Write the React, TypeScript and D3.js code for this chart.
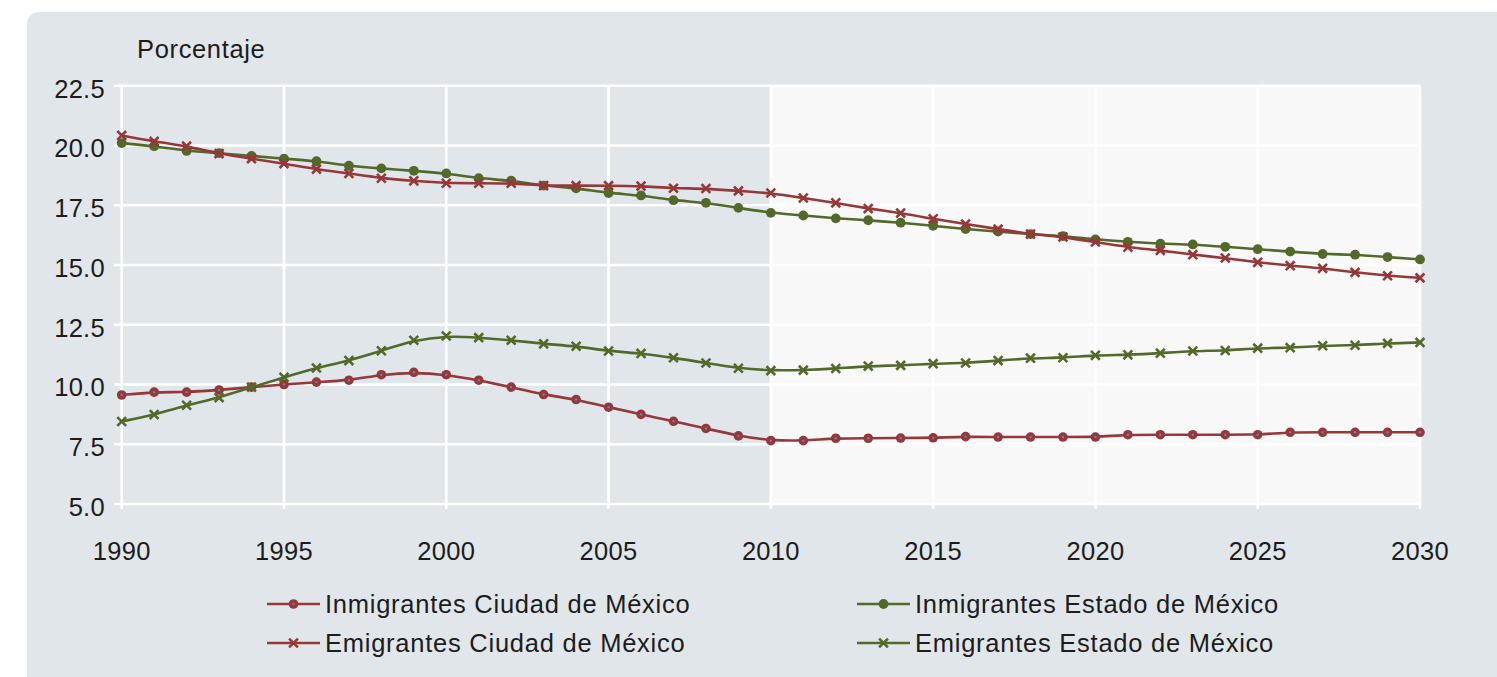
import React, { useRef, useEffect } from 'react';
import * as d3 from 'd3';

// Years 1990..2030
const years = d3.range(1990, 2031);

const inmigrantesCDMX = [
  9.56, 9.68, 9.68, 9.77, 9.89, 10.0, 10.1, 10.18, 10.41, 10.51, 10.41, 10.18, 9.89, 9.58, 9.37,
  9.05, 8.75, 8.46, 8.16, 7.85, 7.65, 7.65, 7.75, 7.75, 7.76, 7.77, 7.82, 7.8, 7.8, 7.8, 7.8,
  7.9, 7.9, 7.9, 7.9, 7.9, 8.0, 8.0, 8.0, 8.0, 8.0,
];

const emigrantesCDMX = [
  20.42, 20.17, 19.97, 19.66, 19.45, 19.24, 19.01, 18.83, 18.63, 18.52, 18.42, 18.42, 18.42,
  18.32, 18.32, 18.32, 18.3, 18.21, 18.2, 18.1, 18.01, 17.8, 17.6, 17.36, 17.17, 16.93, 16.71,
  16.5, 16.29, 16.17, 15.96, 15.74, 15.61, 15.43, 15.29, 15.11, 14.97, 14.86, 14.69, 14.55, 14.46,
];

const inmigrantesEdoMex = [
  20.1, 19.97, 19.77, 19.68, 19.56, 19.45, 19.34, 19.15, 19.04, 18.94, 18.83, 18.63, 18.53,
  18.32, 18.21, 18.01, 17.91, 17.71, 17.6, 17.39, 17.18, 17.07, 16.95, 16.87, 16.77, 16.64,
  16.5, 16.4, 16.29, 16.21, 16.07, 15.97, 15.89, 15.86, 15.76, 15.66, 15.56, 15.46, 15.43,
  15.33, 15.23,
];

const emigrantesEdoMex = [
  8.45, 8.74, 9.13, 9.45, 9.89, 10.3, 10.69, 11.0, 11.41, 11.85, 12.03, 11.96, 11.85, 11.7,
  11.6, 11.4, 11.3, 11.12, 10.9, 10.68, 10.58, 10.6, 10.67, 10.77, 10.8, 10.87, 10.9, 11.0,
  11.1, 11.12, 11.22, 11.24, 11.31, 11.4, 11.42, 11.52, 11.54, 11.62, 11.64, 11.72, 11.76,
];

const yTicks = [5, 7.5, 10, 12.5, 15, 17.5, 20, 22.5];
const xTicks = [1990, 1995, 2000, 2005, 2010, 2015, 2020, 2025, 2030];

const RED = '#94383a';
const GREEN = '#52692a';

const series = [
  { name: 'Inmigrantes Ciudad de México', values: inmigrantesCDMX, color: RED, marker: 'ring' },
  { name: 'Inmigrantes Estado de México', values: inmigrantesEdoMex, color: GREEN, marker: 'dot' },
  { name: 'Emigrantes Ciudad de México', values: emigrantesCDMX, color: RED, marker: 'cross' },
  { name: 'Emigrantes Estado de México', values: emigrantesEdoMex, color: GREEN, marker: 'cross' },
];

const FONT = "'Liberation Sans', Arial, sans-serif";

function drawMarker(g: any, type: string, cx: number, cy: number, color: string) {
  if (type === 'cross') {
    const s = 4.4;
    g.append('path')
      .attr('d', `M${cx - s},${cy - s}L${cx + s},${cy + s}M${cx - s},${cy + s}L${cx + s},${cy - s}`)
      .attr('stroke', color)
      .attr('stroke-width', 2.6)
      .attr('fill', 'none');
  } else if (type === 'ring') {
    g.append('circle').attr('cx', cx).attr('cy', cy).attr('r', 4.8).attr('fill', color);
    g.append('circle').attr('cx', cx).attr('cy', cy).attr('r', 1.2).attr('fill', '#6f80b0');
  } else {
    g.append('circle').attr('cx', cx).attr('cy', cy).attr('r', 4.9).attr('fill', color);
  }
}

export default function App() {
  const ref = useRef<SVGSVGElement>(null);

  useEffect(() => {
    const width = 1497;
    const height = 677;

    const svg = d3.select(ref.current);
    svg.selectAll('*').remove();
    svg.attr('viewBox', `0 0 ${width} ${height}`);

    // Panel
    svg
      .append('rect')
      .attr('x', 27)
      .attr('y', 12)
      .attr('width', 1520)
      .attr('height', 720)
      .attr('rx', 12)
      .attr('fill', '#e1e6ea');

    const x = d3.scaleLinear().domain([1990, 2030]).range([121.7, 1420]);
    const y = d3.scaleLinear().domain([5, 22.5]).range([504, 85.7]);

    // Projection zone
    svg
      .append('rect')
      .attr('x', x(2010))
      .attr('y', y(22.5))
      .attr('width', x(2030) - x(2010))
      .attr('height', y(5) - y(22.5))
      .attr('fill', '#f8f8f8');

    // Grid
    const grid = svg.append('g').attr('stroke', '#ffffff').attr('stroke-width', 2.6);
    yTicks.forEach(t => {
      grid.append('line').attr('x1', 114).attr('x2', x(2030)).attr('y1', y(t)).attr('y2', y(t));
    });
    xTicks.forEach(t => {
      grid.append('line').attr('x1', x(t)).attr('x2', x(t)).attr('y1', y(22.5)).attr('y2', y(5) + 5);
    });

    // Axis labels
    const text = svg
      .append('g')
      .style('font-family', FONT)
      .style('font-size', '25.5px')
      .style('letter-spacing', '0.3px')
      .attr('fill', '#1c1c1c');
    yTicks.forEach(t => {
      text
        .append('text')
        .attr('x', 105)
        .attr('y', y(t) + 11.8)
        .attr('text-anchor', 'end')
        .text(d3.format('.1f')(t));
    });
    xTicks.forEach(t => {
      text.append('text').attr('x', x(t)).attr('y', 560).attr('text-anchor', 'middle').text(t);
    });
    text
      .append('text')
      .attr('x', 137)
      .attr('y', 58)
      .style('letter-spacing', '0.65px')
      .text('Porcentaje');

    // Lines and markers
    const line = d3
      .line<number>()
      .x((_, i) => x(years[i]))
      .y(d => y(d))
      .curve(d3.curveBasis);

    series.forEach(s => {
      svg
        .append('path')
        .datum(s.values)
        .attr('fill', 'none')
        .attr('stroke', s.color)
        .attr('stroke-width', 2.6)
        .attr('d', line);
      const mg = svg.append('g');
      s.values.forEach((v, i) => drawMarker(mg, s.marker, x(years[i]), y(v), s.color));
    });

    // Legend
    const legendPos = [
      { lx: 267, ly: 604 },
      { lx: 857, ly: 604 },
      { lx: 267, ly: 643 },
      { lx: 857, ly: 643 },
    ];
    const legend = svg.append('g');
    series.forEach((s, i) => {
      const { lx, ly } = legendPos[i];
      legend
        .append('line')
        .attr('x1', lx)
        .attr('x2', lx + 53)
        .attr('y1', ly)
        .attr('y2', ly)
        .attr('stroke', s.color)
        .attr('stroke-width', 2.6);
      drawMarker(legend, s.marker, lx + 26.5, ly, s.color);
      legend
        .append('text')
        .attr('x', lx + 58)
        .attr('y', ly + 9.3)
        .style('font-family', FONT)
        .style('font-size', '25.5px')
        .style('letter-spacing', '0.75px')
        .attr('fill', '#1c1c1c')
        .text(s.name);
    });
  }, []);

  return (
    <svg
      ref={ref}
      width={1497}
      height={677}
      style={{ position: 'absolute', left: 0, top: 0, display: 'block' }}
    />
  );
}
